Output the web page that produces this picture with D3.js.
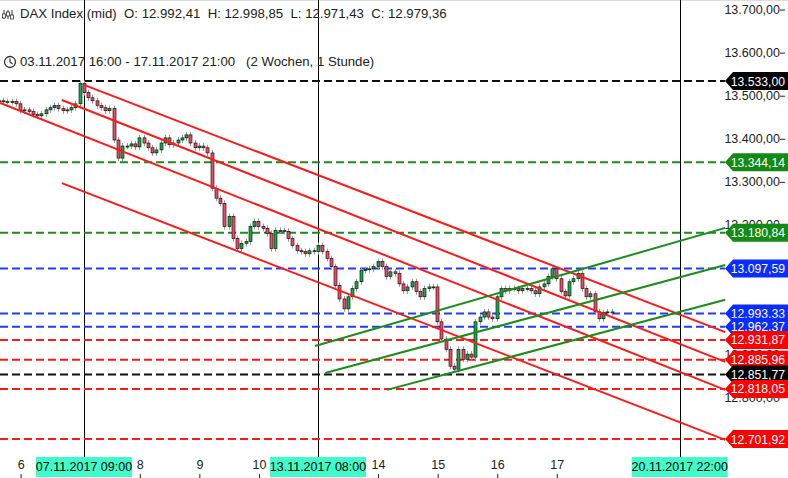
<!DOCTYPE html>
<html><head><meta charset="utf-8">
<script src="https://cdn.jsdelivr.net/npm/d3@7"></script>
<style>body{margin:0;background:#fff}svg{display:block;font-family:"Liberation Sans",Arial,sans-serif}</style>
</head><body><svg id="c" width="788" height="478"></svg>
<script>
const closes = [
13487,13487,13485,13485,13485,13480,
13464,13466,13462,13455,13452,13457,13466,13471,13476,13469,13464,13466,13471,13480,
13527,13506,13494,13487,13476,13471,13464,13469,13396,13354,13382,13382,13387,13380,
13401,13389,13378,13366,13373,13389,13401,13385,13389,13396,13401,13408,13389,13378,
13382,13378,13366,13284,13261,13249,13195,13219,13167,13144,13156,13160,13195,13207,
13195,13191,13179,13144,13186,13186,13184,13167,13151,13139,13137,13132,13139,13137,
13151,13137,13121,13102,13058,13027,13004,13032,13051,13067,13093,13095,13097,13102,
13114,13102,13079,13090,13086,13062,13046,13055,13067,13044,13032,13051,13055,13055,
12974,12934,12910,12871,12864,12910,12887,12899,12892,12974,12985,12997,12985,12981,
13032,13051,13046,13051,13051,13046,13051,13051,13046,13039,13055,13062,13079,13097,
13074,13044,13034,13067,13074,13086,13051,13032,13039,12997,12981,12995,12997,12995];
const firstOpen = 13485;
const yTicks = [13700,13600,13500,13400,13300,13200,12900,12800];
const dayLabels = [["6",6],["8",34],["9",48],["10",62],["14",90],["15",104],["16",118],["17",132]];
const markers = [["07.11.2017 09:00",21],["13.11.2017 08:00",76],["20.11.2017 22:00",161]];
const levels = [[13533.00,"black"],[13344.14,"green"],[13180.84,"green"],[13097.59,"blue"],[12993.33,"blue"],[12962.37,"blue"],[12931.87,"red"],[12885.96,"red"],[12851.77,"black"],[12818.05,"red"],[12701.92,"red"]];
const redLines = [[21,13524,171.7,12950],[15.8,13489,171.7,12881],[1.3,13482,171.7,12816],[15.8,13296,171.7,12700]];
const greenLines = [[75.3,12918,171.7,13192],[77.7,12855,171.7,13106],[92.2,12816,171.7,13025]];

const col={black:"#000",green:"#138a13",blue:"#0a2cff",red:"#ff0000"};
const lineCol={black:"#111",green:"#1c8c1c",blue:"#1f3cff",red:"#ff1a1a"};
const svg=d3.select("#c");
const x=d3.scaleLinear().domain([0,161]).range([-5.4,679.7]);
const y=d3.scaleLinear().domain([13533,12701.92]).range([81,439]);
const fmt=v=>d3.format(",.2f")(v).replace(/,/g,"X").replace(/\./g,",").replace(/X/g,".");

svg.append("line").attr("x1",0).attr("x2",788).attr("y1",0.5).attr("y2",0.5).attr("stroke","#ddd");
yTicks.forEach(t=>{svg.append("text").attr("x",780).attr("y",y(t)+5).attr("text-anchor","end").attr("font-size",12.5).attr("fill","#222").text(fmt(t));
 svg.append("line").attr("x1",780).attr("x2",785).attr("y1",y(t)+1).attr("y2",y(t)+1).attr("stroke","#222");});
markers.forEach(m=>svg.append("line").attr("x1",Math.round(x(m[1]))+0.5).attr("x2",Math.round(x(m[1]))+0.5).attr("y1",0).attr("y2",457).attr("stroke","#000"));
levels.forEach(l=>svg.append("line").attr("x1",0).attr("x2",725).attr("y1",y(l[0])).attr("y2",y(l[0])).attr("stroke",lineCol[l[1]]).attr("stroke-width",2).attr("stroke-dasharray","8,4"));
const g=svg.append("g");
closes.forEach((c,i)=>{const o=i?closes[i-1]:firstOpen;const hi=Math.max(o,c)+7,lo=Math.min(o,c)-7;const cx=Math.round(x(i))+0.5;
 g.append("line").attr("x1",cx).attr("x2",cx).attr("y1",y(hi)).attr("y2",y(lo)).attr("stroke","#999");
 const t=y(Math.max(o,c)),b=y(Math.min(o,c));
 g.append("rect").attr("x",cx-1.5).attr("y",t).attr("width",3).attr("height",Math.max(1,b-t)).attr("fill",c>=o?"#1aa84a":"#f04a66").attr("stroke","#000").attr("stroke-width",0.6);});
redLines.forEach(l=>svg.append("line").attr("x1",x(l[0])).attr("y1",y(l[1])).attr("x2",x(l[2])).attr("y2",y(l[3])).attr("stroke","#ff1a1a").attr("stroke-width",2));
greenLines.forEach(l=>svg.append("line").attr("x1",x(l[0])).attr("y1",y(l[1])).attr("x2",x(l[2])).attr("y2",y(l[3])).attr("stroke","#1c8c1c").attr("stroke-width",2));
levels.forEach(l=>{const yy=y(l[0]);
 svg.append("path").attr("d",`M725,${yy} L733,${yy-9} L788,${yy-9} L788,${yy+9} L733,${yy+9} Z`).attr("fill",col[l[1]]);
 svg.append("text").attr("x",785).attr("y",yy+4.5).attr("text-anchor","end").attr("font-size",12.2).attr("fill","#fff").text(fmt(l[0]));});
dayLabels.forEach(d=>{svg.append("text").attr("x",x(d[1])+1).attr("y",469).attr("text-anchor","middle").attr("font-size",12.5).attr("fill","#222").text(d[0]);
 svg.append("line").attr("x1",x(d[1])+1).attr("x2",x(d[1])+1).attr("y1",474).attr("y2",478).attr("stroke","#222");});
markers.forEach(m=>{const mx=x(m[1]);svg.append("rect").attr("x",mx-48).attr("y",457).attr("width",96).attr("height",20).attr("fill","#40fccb");
 svg.append("text").attr("x",mx).attr("y",471).attr("text-anchor","middle").attr("font-size",12.5).attr("fill","#000").text(m[0]);});
const h=svg.append("g").attr("font-size",13.2).attr("fill","#222");
h.append("text").attr("x",20).attr("y",18).attr("xml:space","preserve").text("DAX Index (mid)  O: 12.992,41  H: 12.998,85  L: 12.971,43  C: 12.979,36");
h.append("text").attr("x",20).attr("y",66).attr("xml:space","preserve").text("03.11.2017 16:00 - 17.11.2017 21:00   (2 Wochen, 1 Stunde)");
[4,8,12].forEach((px,k)=>{h.append("line").attr("x1",px).attr("x2",px).attr("y1",10).attr("y2",19).attr("stroke","#333");h.append("rect").attr("x",px-1.5).attr("y",[14,12,15][k]).attr("width",3).attr("height",4).attr("fill","#fff").attr("stroke","#333").attr("stroke-width",0.8);});
h.append("circle").attr("cx",10).attr("cy",62).attr("r",5.5).attr("fill","none").attr("stroke","#333").attr("stroke-width",1.3);
h.append("path").attr("d","M10,58.5 L10,62 L12.5,64").attr("fill","none").attr("stroke","#333").attr("stroke-width",1.2);
</script></body></html>
